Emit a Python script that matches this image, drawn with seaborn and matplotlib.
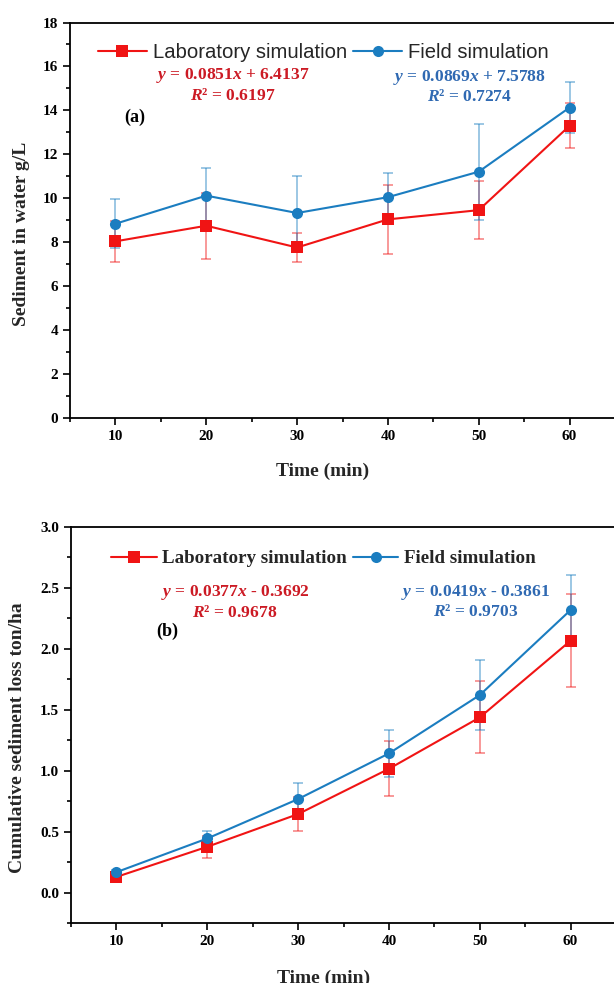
import matplotlib
matplotlib.use("Agg")
import numpy as np
import pandas as pd
import seaborn as sns
import matplotlib.pyplot as plt
from matplotlib.ticker import MultipleLocator

# ---------------- data ----------------
time = [10, 20, 30, 40, 50, 60]
series_names = ["Laboratory simulation", "Field simulation"]

lab_sed = [8.04, 8.75, 7.76, 9.04, 9.46, 13.30]
lab_sed_err = [0.94, 1.50, 0.66, 1.56, 1.32, 1.03]
field_sed = [8.84, 10.12, 9.33, 10.05, 11.21, 14.13]
field_sed_err = [1.12, 1.28, 1.67, 1.11, 2.18, 1.17]

lab_cum = [0.13, 0.377, 0.645, 1.016, 1.437, 2.066]
lab_cum_err = [0.02, 0.09, 0.14, 0.225, 0.295, 0.38]
field_cum = [0.169, 0.445, 0.768, 1.142, 1.62, 2.317]
field_cum_err = [0.02, 0.063, 0.135, 0.19, 0.29, 0.287]

eq_a = [r"$\mathit{y}$ = 0.0851$\mathit{x}$ + 6.4137", r"$\mathit{R}$² = 0.6197",
        r"$\mathit{y}$ = 0.0869$\mathit{x}$ + 7.5788", r"$\mathit{R}$² = 0.7274"]
eq_b = [r"$\mathit{y}$ = 0.0377$\mathit{x}$ - 0.3692", r"$\mathit{R}$² = 0.9678",
        r"$\mathit{y}$ = 0.0419$\mathit{x}$ - 0.3861", r"$\mathit{R}$² = 0.9703"]

# ---------------- style ----------------
sns.set_theme(style="ticks")
plt.rcParams["font.family"] = ["Liberation Serif", "DejaVu Serif"]
plt.rcParams["mathtext.fontset"] = "custom"
plt.rcParams["mathtext.it"] = "Liberation Serif:bold:italic"
plt.rcParams["mathtext.rm"] = "Liberation Serif:bold"
plt.rcParams["axes.unicode_minus"] = False

RED = "#f01414"
BLUE = "#1b7dc0"
RED_T = "#cc1a24"
BLUE_T = "#2f69b2"
palette = {series_names[0]: RED, series_names[1]: BLUE}
markers = {series_names[0]: "s", series_names[1]: "o"}

fig = plt.figure(figsize=(6.14, 9.83), dpi=100)
ax1 = fig.add_axes([70 / 614, 1 - 418 / 983, 545 / 614, 395.5 / 983])
ax2 = fig.add_axes([71 / 614, 1 - 923.3 / 983, 545 / 614, 396.6 / 983])


def draw(ax, lab, lab_err, field, field_err, ylim, ymaj, ymin_, ylabel, eqs, tag,
         tagpos, ylabxy, xlaby, legfont, legpos):
    df = pd.DataFrame({
        "Time": time * 2,
        "value": list(lab) + list(field),
        "series": [series_names[0]] * len(time) + [series_names[1]] * len(time),
    })
    # error bars (lighter)
    for vals, errs, c in [(lab, lab_err, RED), (field, field_err, BLUE)]:
        ax.errorbar(time, vals, yerr=errs, fmt="none", ecolor=c, alpha=0.55,
                    elinewidth=1.1, capsize=3.5, capthick=1.1, zorder=1,
                    label="_nolegend_")
    sns.lineplot(data=df, x="Time", y="value", hue="series", style="series",
                 hue_order=series_names, style_order=series_names,
                 palette=palette, markers=markers, dashes=False,
                 markersize=8, markeredgewidth=0, linewidth=1.5, ax=ax, zorder=3)
    handles, labels = ax.get_legend_handles_labels()
    ax.legend(handles, labels, loc="center", bbox_to_anchor=legpos, ncol=2,
              frameon=False, prop=legfont, handlelength=2.4, handletextpad=0.3,
              columnspacing=0.3, borderpad=0.2)

    ax.set_xlim(5, 65)
    ax.set_ylim(*ylim)
    ax.xaxis.set_major_locator(MultipleLocator(10))
    ax.xaxis.set_minor_locator(MultipleLocator(5))
    ax.yaxis.set_major_locator(MultipleLocator(ymaj))
    ax.yaxis.set_minor_locator(MultipleLocator(ymin_))
    ax.tick_params(which="both", direction="out", width=1.2, colors="black",
                   labelsize=11, top=False, right=False)
    ax.tick_params(which="major", length=5)
    ax.tick_params(which="minor", length=3)
    for lbl in ax.get_xticklabels() + ax.get_yticklabels():
        lbl.set_fontweight("bold")
    for s in ["left", "bottom", "top"]:
        ax.spines[s].set_visible(True)
        ax.spines[s].set_linewidth(1.3)
        ax.spines[s].set_color("black")
    ax.spines["right"].set_visible(False)

    ax.set_xlabel("Time (min)", fontsize=14, fontweight="bold")
    ax.xaxis.set_label_coords(0.463, xlaby)
    ax.set_ylabel(ylabel, fontsize=14, fontweight="bold")
    ax.yaxis.set_label_coords(*ylabxy)

    (rx, ry1, ry2), (bx, by1, by2) = eqs[4]
    ax.text(rx, ry1, eqs[0], transform=ax.transAxes, color=RED_T, fontsize=12.6,
            fontweight="bold", ha="center", va="center")
    ax.text(rx, ry2, eqs[1], transform=ax.transAxes, color=RED_T, fontsize=12.6,
            fontweight="bold", ha="center", va="center")
    ax.text(bx, by1, eqs[2], transform=ax.transAxes, color=BLUE_T, fontsize=12.6,
            fontweight="bold", ha="center", va="center")
    ax.text(bx, by2, eqs[3], transform=ax.transAxes, color=BLUE_T, fontsize=12.6,
            fontweight="bold", ha="center", va="center")
    ax.text(tagpos[0], tagpos[1], tag, transform=ax.transAxes, fontsize=13,
            fontweight="bold", ha="center", va="center", color="black")


leg_a = {"family": "Liberation Sans", "size": 14.6}
leg_b = {"family": "Liberation Serif", "size": 13.7, "weight": "bold"}

draw(ax1, lab_sed, lab_sed_err, field_sed, field_sed_err, (0, 18), 2, 1,
     "Sediment in water g/L",
     eq_a + [((0.298, 0.867, 0.814), (0.733, 0.862, 0.811))],
     "(a)", (0.1186, 0.761), (-0.0735, 0.465), -0.113, leg_a, (0.465, 0.925))

draw(ax2, lab_cum, lab_cum_err, field_cum, field_cum_err, (-0.25, 3.0), 0.5, 0.25,
     "Cumulative sediment loss ton/ha",
     eq_b + [((0.301, 0.834, 0.783), (0.743, 0.835, 0.784))],
     "(b)", (0.176, 0.735), (-0.083, 0.467), -0.118, leg_b, (0.463, 0.919))

fig.savefig("out.png", dpi=100)
